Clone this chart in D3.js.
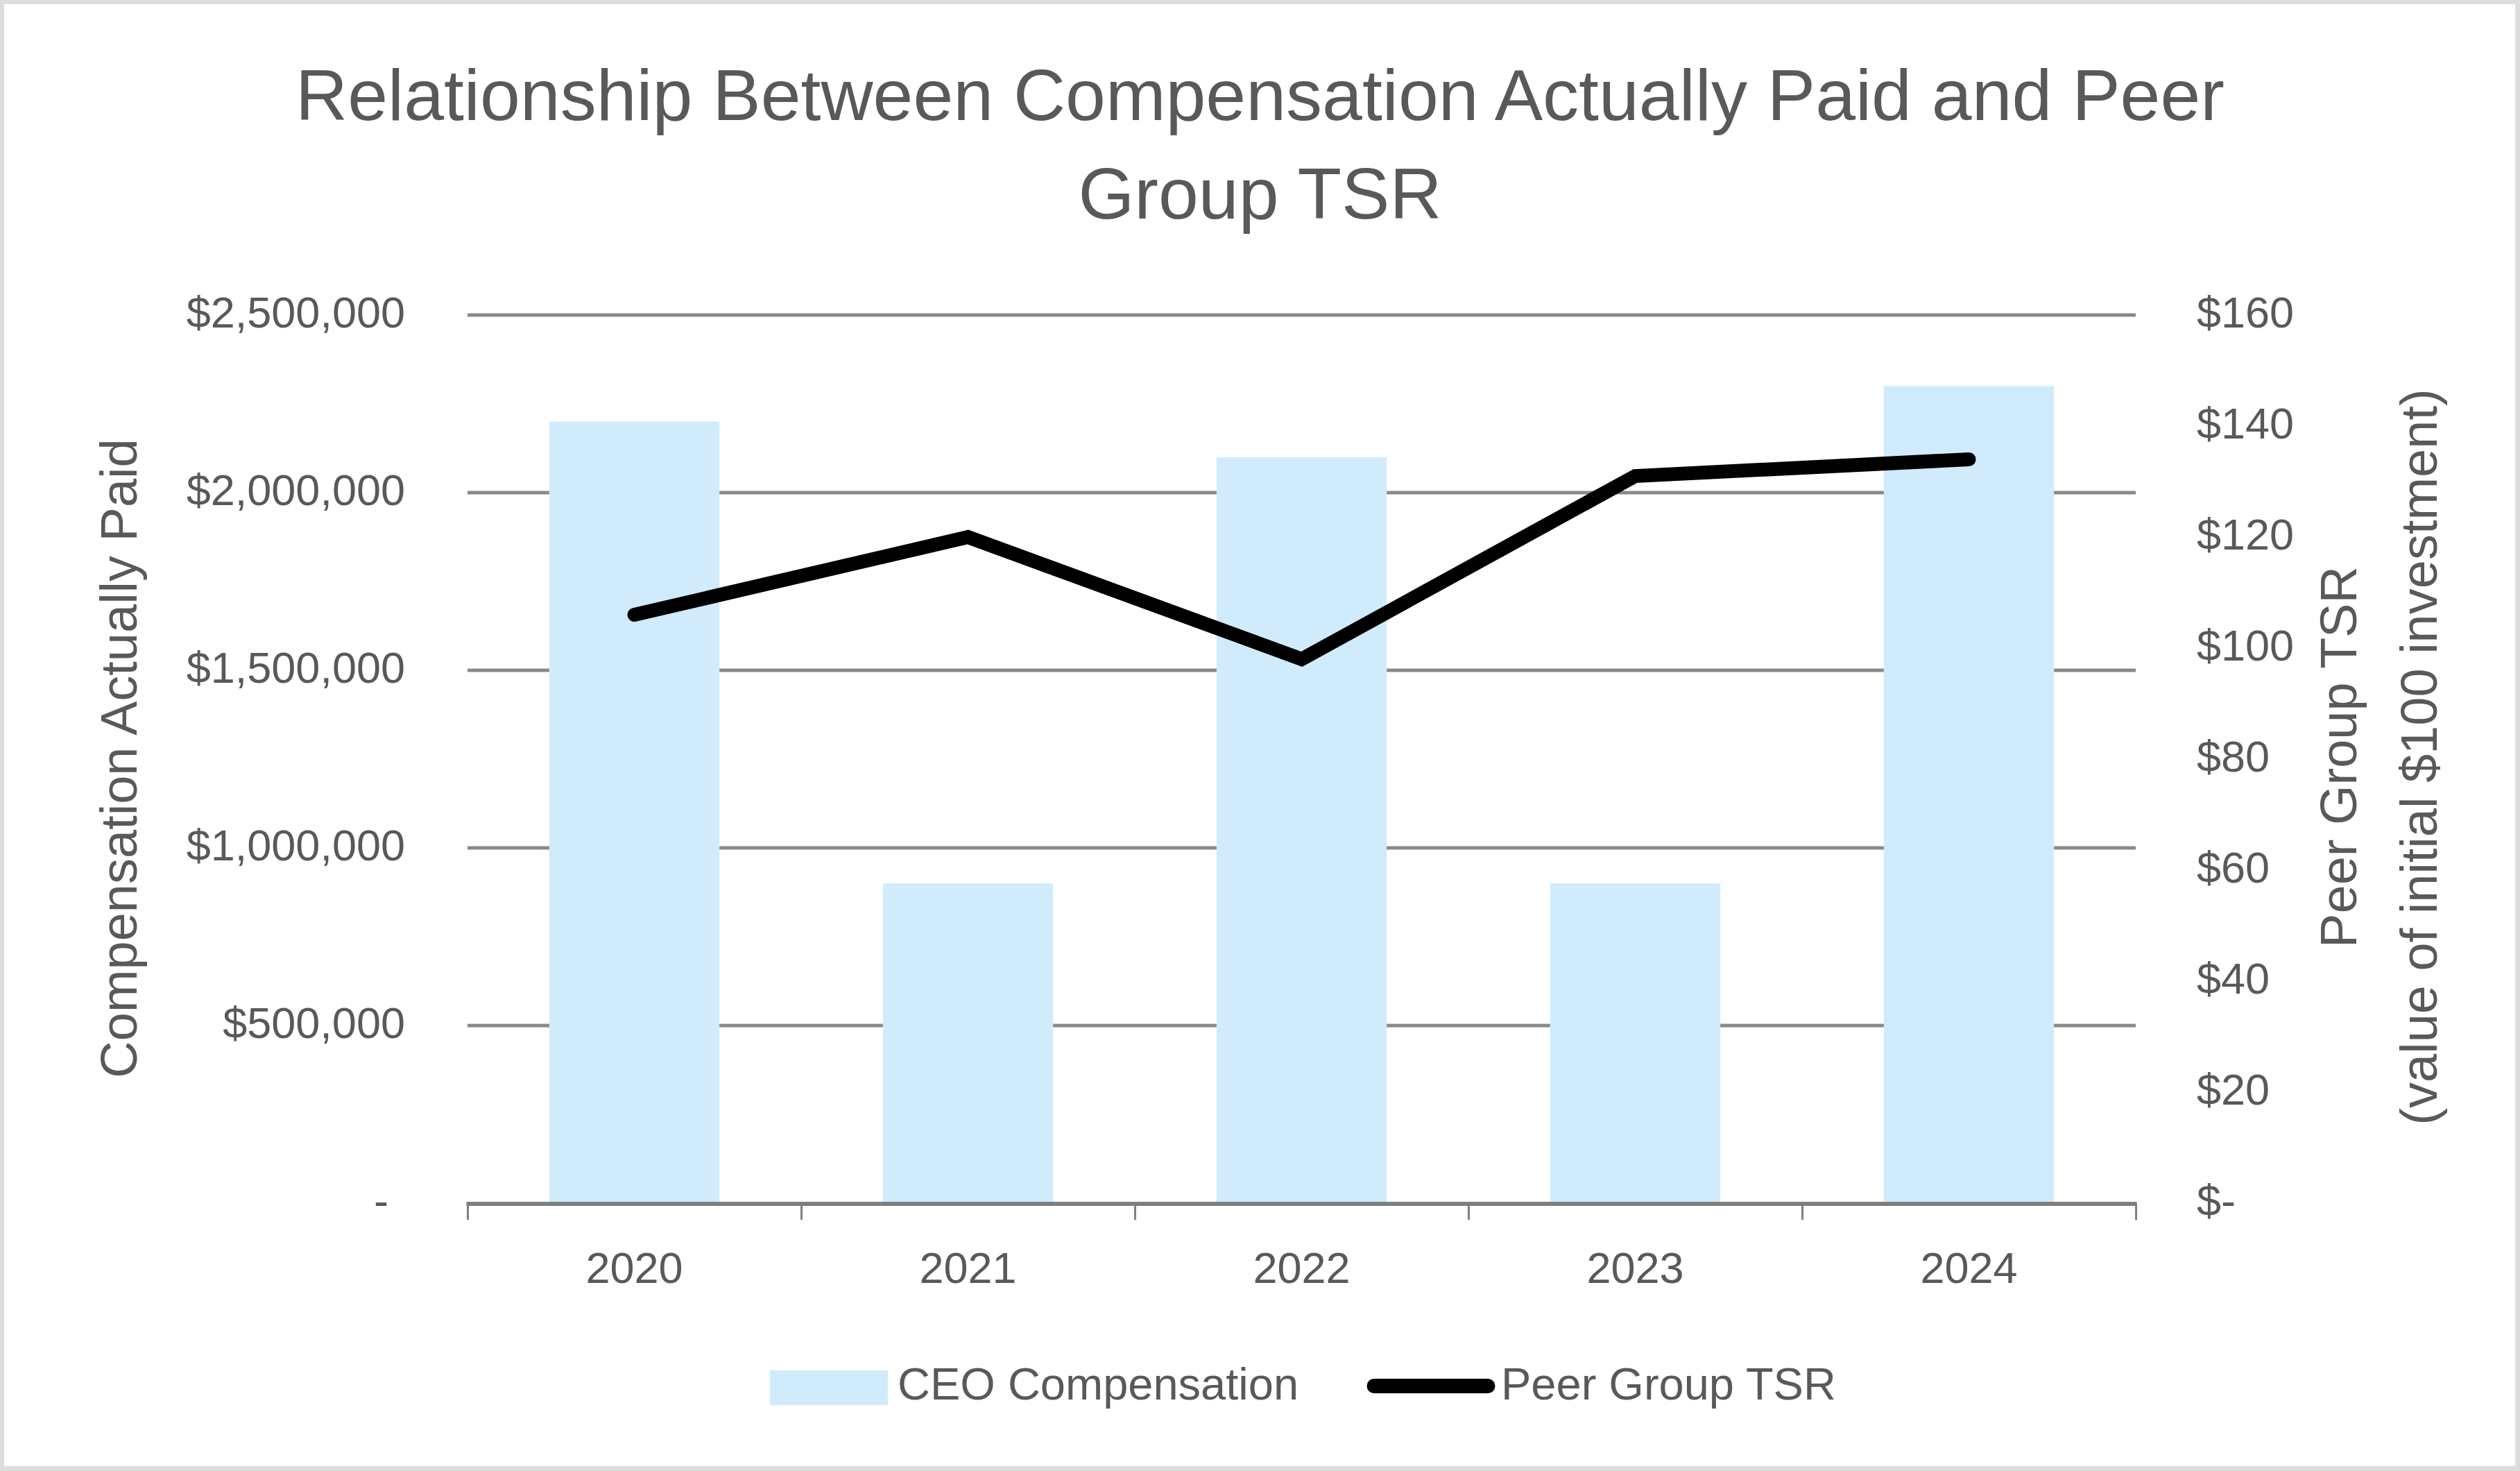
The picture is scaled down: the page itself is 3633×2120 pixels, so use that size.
<!DOCTYPE html>
<html>
<head>
<meta charset="utf-8">
<script src="https://cdn.jsdelivr.net/npm/d3@7"></script>
<style>
  html, body { margin: 0; padding: 0; background: #fff; overflow: hidden; }
  svg { display: block; font-family: 'Liberation Sans', Arial, sans-serif; }
  .tick text { fill: #595959; }
</style>
</head>
<body>
<div id="chart"></div>
<script>
const years = ['2020', '2021', '2022', '2023', '2024']
const ceoComp = [2200000, 900000, 2100000, 900000, 2300000]
const peerTsr = [106, 120, 98, 131, 134]
const leftTicks = [0, 500000, 1000000, 1500000, 2000000, 2500000]
const rightTicks = [0, 20, 40, 60, 80, 100, 120, 140, 160]
const titleLines = ['Relationship Between Compensation Actually Paid and Peer', 'Group TSR']

const width = 3633
const height = 2120
const margin = { top: 454, bottom: 2120 - 1734, left: 674, right: 3633 - 3079 }
const innerWidth = width - margin.left - margin.right
const innerHeight = height - margin.top - margin.bottom

const textColor = '#595959'
const gridColor = '#898989'
const axisColor = '#7f7f7f'
const barColor = '#d0ecfc'
const fontFamily = 'Liberation Sans, Arial, sans-serif'

const svg = d3.select('#chart')
  .append('svg')
    .attr('width', width)
    .attr('height', height)
    .attr('viewBox', `0 0 ${width} ${height}`)

// frame
svg.append('rect')
  .attr('width', width).attr('height', height)
  .attr('fill', '#dcdddf')
svg.append('rect')
  .attr('x', 6).attr('y', 6)
  .attr('width', width - 13).attr('height', height - 13)
  .attr('fill', '#fff')

// TITLE
svg.append('g')
  .selectAll('text')
  .data(titleLines)
  .enter().append('text')
    .attr('x', width / 2)
    .attr('y', (d, i) => 173 + i * 142)
    .attr('text-anchor', 'middle')
    .attr('font-size', 104)
    .attr('fill', textColor)
    .text(d => d)

const plot = svg.append('g')
  .attr('transform', `translate(${margin.left} ${margin.top})`)

// SCALES
const xScale = d3.scaleBand()
  .domain(years)
  .range([0, innerWidth])
  .paddingInner(0.49)
  .paddingOuter(0.245)

const yLeft = d3.scaleLinear()
  .domain([0, 2500000])
  .range([innerHeight, 0])

const yRight = d3.scaleLinear()
  .domain([0, 160])
  .range([innerHeight, 0])

// GRIDLINES
plot.append('g')
  .attr('class', 'grid')
  .selectAll('line')
  .data(leftTicks.slice(1))
  .enter().append('line')
    .attr('x1', 0)
    .attr('x2', innerWidth)
    .attr('y1', d => yLeft(d))
    .attr('y2', d => yLeft(d))
    .attr('stroke', gridColor)
    .attr('stroke-width', 5)

// BARS
plot.append('g')
  .attr('class', 'bars')
  .selectAll('rect')
  .data(years)
  .enter().append('rect')
    .attr('x', d => xScale(d))
    .attr('y', (d, i) => yLeft(ceoComp[i]))
    .attr('width', xScale.bandwidth())
    .attr('height', (d, i) => innerHeight - yLeft(ceoComp[i]))
    .attr('fill', barColor)

// X-AXIS
const xBoundary = d3.scaleLinear()
  .domain([0, years.length])
  .range([0, innerWidth])

const xTicks = plot.append('g')
  .attr('transform', `translate(0 ${innerHeight})`)
  .call(d3.axisBottom(xBoundary).tickValues(d3.range(years.length + 1)).tickSize(24).tickFormat(''))
xTicks.select('.domain').remove()
xTicks.selectAll('.tick line').attr('stroke', axisColor).attr('stroke-width', 3)

plot.append('line')
  .attr('x1', -1.5)
  .attr('x2', innerWidth + 1.5)
  .attr('y1', innerHeight + 1)
  .attr('y2', innerHeight + 1)
  .attr('stroke', axisColor)
  .attr('stroke-width', 6)

const xLabels = plot.append('g')
  .attr('transform', `translate(0 ${innerHeight})`)
  .attr('font-family', fontFamily)
  .attr('font-size', 63)
  .call(d3.axisBottom(xScale).tickSize(0))
xLabels.attr('font-family', fontFamily).attr('font-size', 63)
xLabels.select('.domain').remove()
xLabels.selectAll('.tick text')
  .attr('y', 115)
  .attr('dy', 0)

// LEFT Y-AXIS
const leftAxis = plot.append('g')
  .call(d3.axisLeft(yLeft)
    .tickValues(leftTicks)
    .tickSize(0)
    .tickFormat(d => d === 0 ? '-' : '$' + d3.format(',')(d)))
leftAxis.attr('font-family', fontFamily).attr('font-size', 63)
leftAxis.select('.domain').remove()
leftAxis.selectAll('.tick text')
  .attr('x', d => d === 0 ? -114 : -90)
  .attr('dy', '0.28em')

// RIGHT Y-AXIS
const rightAxis = plot.append('g')
  .attr('transform', `translate(${innerWidth} 0)`)
  .call(d3.axisRight(yRight)
    .tickValues(rightTicks)
    .tickSize(0)
    .tickFormat(d => d === 0 ? '$-' : '$' + d))
rightAxis.attr('font-family', fontFamily).attr('font-size', 63)
rightAxis.select('.domain').remove()
rightAxis.selectAll('.tick text')
  .attr('x', 88)
  .attr('dy', '0.28em')

// AXIS TITLES
svg.append('text')
  .attr('transform', 'translate(197 1093) rotate(-90)')
  .attr('text-anchor', 'middle')
  .attr('font-size', 74)
  .attr('fill', textColor)
  .text('Compensation Actually Paid')

svg.append('text')
  .attr('transform', 'translate(3397 1091) rotate(-90)')
  .attr('text-anchor', 'middle')
  .attr('font-size', 74)
  .attr('fill', textColor)
  .text('Peer Group TSR')

svg.append('text')
  .attr('transform', 'translate(3513 1091) rotate(-90)')
  .attr('text-anchor', 'middle')
  .attr('font-size', 74)
  .attr('fill', textColor)
  .text('(value of initial $100 investment)')

// TSR LINE
const line = d3.line()
  .x((d, i) => xScale(years[i]) + xScale.bandwidth() / 2)
  .y(d => yRight(d))

plot.append('path')
  .datum(peerTsr)
  .attr('d', line)
  .attr('fill', 'none')
  .attr('stroke', '#000')
  .attr('stroke-width', 20)
  .attr('stroke-linecap', 'round')
  .attr('stroke-linejoin', 'miter')

// LEGEND
const legend = svg.append('g').attr('class', 'legend')

legend.append('rect')
  .attr('x', 1110).attr('y', 1975)
  .attr('width', 170).attr('height', 50)
  .attr('fill', barColor)

legend.append('text')
  .attr('x', 1294).attr('y', 2017)
  .attr('font-size', 65)
  .attr('fill', textColor)
  .text('CEO Compensation')

legend.append('line')
  .attr('x1', 1981).attr('x2', 2145)
  .attr('y1', 1997.5).attr('y2', 1997.5)
  .attr('stroke', '#000')
  .attr('stroke-width', 21)
  .attr('stroke-linecap', 'round')

legend.append('text')
  .attr('x', 2164).attr('y', 2017)
  .attr('font-size', 65)
  .attr('fill', textColor)
  .text('Peer Group TSR')
</script>
</body>
</html>
